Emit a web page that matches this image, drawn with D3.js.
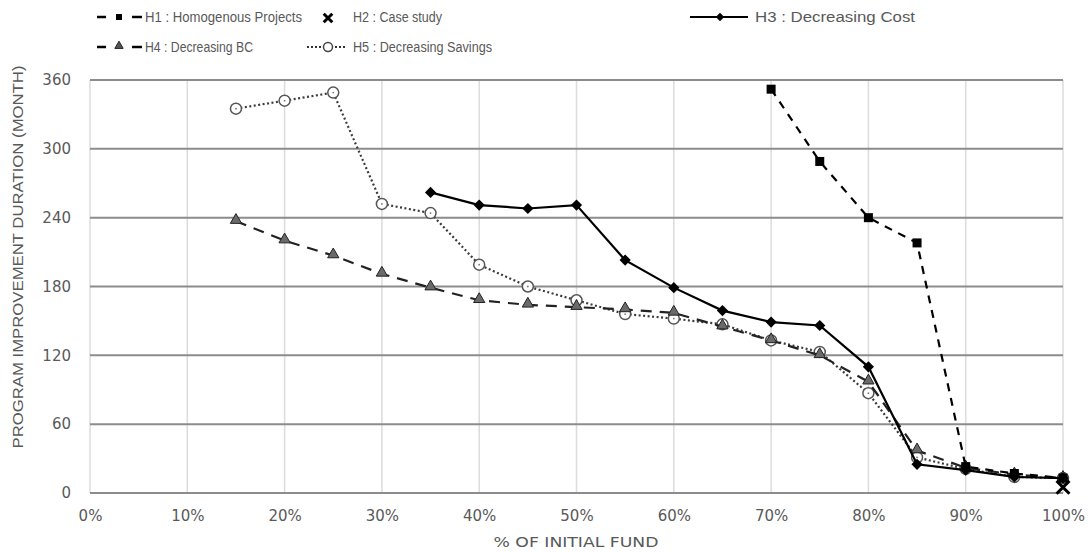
<!DOCTYPE html>
<html><head><meta charset="utf-8">
<script src="https://cdn.jsdelivr.net/npm/d3@7"></script>
<style>body{margin:0;background:#fff}svg{display:block}</style>
</head><body><svg id="c" width="1092" height="552"></svg>
<script>
const xTicks = [0,10,20,30,40,50,60,70,80,90,100];
const yTicks = [0,60,120,180,240,300,360];
const h1X = [70,75,80,85,90,95,100];
const h1Y = [352,289,240,218,23,17,13];
const h2X = [100];
const h2Y = [5];
const h3X = [35,40,45,50,55,60,65,70,75,80,85,90,95,100];
const h3Y = [262,251,248,251,203,179,159,149,146,110,25,20,14,13];
const h4X = [15,20,25,30,35,40,45,50,55,60,65,70,75,80,85,90,95,100];
const h4Y = [237,220,207,191,179,168,164,162,160,157,145,133,120,97,37,22,16,13];
const h5X = [15,20,25,30,35,40,45,50,55,60,65,70,75,80,85,90,95,100];
const h5Y = [335,342,349,252,244,199,180,168,156,152,147,133,123,87,31,21,14,13];
const legendLabels = ["H1 : Homogenous Projects","H2 : Case study","H3 : Decreasing Cost","H4 : Decreasing BC","H5 : Decreasing Savings"];

const svg = d3.select("#c");
const x = d3.scaleLinear().domain([0,100]).range([90,1063]);
const y = d3.scaleLinear().domain([0,360]).range([493,80]);
const grey = "#595959";

// vertical gridlines
svg.append("g").selectAll("line").data(xTicks).join("line")
  .attr("x1",d=>x(d)).attr("x2",d=>x(d)).attr("y1",y(360)).attr("y2",y(0))
  .attr("stroke","#dcdcdc").attr("stroke-width",1.5);
// horizontal gridlines
svg.append("g").selectAll("line").data(yTicks).join("line")
  .attr("x1",x(0)).attr("x2",x(100)).attr("y1",d=>y(d)).attr("y2",d=>y(d))
  .attr("stroke","#8c8c8c").attr("stroke-width",2);

// axes labels
const yAxis = svg.append("g").attr("transform",`translate(${x(0)},0)`)
  .call(d3.axisLeft(y).tickValues(yTicks).tickSize(0).tickPadding(19));
const xAxis = svg.append("g").attr("transform",`translate(0,${y(0)})`)
  .call(d3.axisBottom(x).tickValues(xTicks).tickFormat(d=>d+"%").tickSize(0).tickPadding(17));
[yAxis,xAxis].forEach(a=>{
  a.select(".domain").remove();
  a.selectAll("text").attr("fill",grey).attr("font-family","DejaVu Sans").attr("font-size",15);
});

// axis titles
svg.append("text").attr("x",576).attr("y",547).attr("text-anchor","middle")
  .attr("fill",grey).attr("font-family","DejaVu Sans").attr("font-size",14)
  .attr("textLength",165).attr("lengthAdjust","spacingAndGlyphs").text("% OF INITIAL FUND");
svg.append("text").attr("transform","translate(23,257) rotate(-90)").attr("text-anchor","middle")
  .attr("fill",grey).attr("font-family","Liberation Sans").attr("font-size",14)
  .attr("textLength",383).attr("lengthAdjust","spacingAndGlyphs").text("PROGRAM IMPROVEMENT DURATION (MONTH)");

const line = d3.line().x(d=>x(d[0])).y(d=>y(d[1]));
const zip = (a,b)=>a.map((v,i)=>[v,b[i]]);

// H5
const d5 = zip(h5X,h5Y);
svg.append("path").attr("d",line(d5)).attr("fill","none").attr("stroke","#3a3a3a").attr("stroke-width",2.2).attr("stroke-dasharray","2,2.5");
svg.append("g").selectAll("g").data(d5).join("g").attr("transform",d=>`translate(${x(d[0])},${y(d[1])})`)
  .each(function(){const g=d3.select(this);
    g.append("circle").attr("r",5.5).attr("fill","#fff").attr("stroke","#555").attr("stroke-width",1.5);
    g.append("circle").attr("r",0.9).attr("fill","#777");});
// H4
const d4 = zip(h4X,h4Y);
svg.append("path").attr("d",line(d4)).attr("fill","none").attr("stroke","#222").attr("stroke-width",2.2).attr("stroke-dasharray","11,8");
const tri = d3.symbol().type(d3.symbolTriangle).size(55);
svg.append("g").selectAll("path").data(d4).join("path").attr("d",tri)
  .attr("transform",d=>`translate(${x(d[0])},${y(d[1])-1})`).attr("fill","#6a6a6a").attr("stroke","#222").attr("stroke-width",1);
// H3
const d3d = zip(h3X,h3Y);
svg.append("path").attr("d",line(d3d)).attr("fill","none").attr("stroke","#000").attr("stroke-width",2.2);
const dia = d3.symbol().type(d3.symbolDiamond2).size(80);
svg.append("g").selectAll("path").data(d3d).join("path").attr("d",dia)
  .attr("transform",d=>`translate(${x(d[0])},${y(d[1])})`).attr("fill","#000");
// H1
const d1 = zip(h1X,h1Y);
svg.append("path").attr("d",line(d1)).attr("fill","none").attr("stroke","#000").attr("stroke-width",2.2).attr("stroke-dasharray","8,7");
svg.append("g").selectAll("rect").data(d1).join("rect")
  .attr("x",d=>x(d[0])-4.5).attr("y",d=>y(d[1])-4.5).attr("width",9).attr("height",9).attr("fill","#000");
// H2
const d2 = zip(h2X,h2Y);
const cross = d3.symbol().type(d3.symbolX).size(110);
svg.append("g").selectAll("path").data(d2).join("path").attr("d",cross)
  .attr("transform",d=>`translate(${x(d[0])},${y(d[1])})`).attr("fill","none").attr("stroke","#000").attr("stroke-width",3);

// legend
const lg = svg.append("g");
function ltext(tx,ty,t,len){lg.append("text").attr("x",tx).attr("y",ty).attr("dy","0.35em").attr("fill",grey)
  .attr("font-family","Liberation Sans").attr("font-size",14).attr("textLength",len).attr("lengthAdjust","spacingAndGlyphs").text(t);}
function seg(x1,x2,yy,w,c){lg.append("line").attr("x1",x1).attr("x2",x2).attr("y1",yy).attr("y2",yy).attr("stroke",c||"#000").attr("stroke-width",w||2.5);}
// H1
seg(97,106,17); seg(132,142,17);
lg.append("rect").attr("x",116).attr("y",14).attr("width",6).attr("height",6).attr("fill","#000");
ltext(145,17,legendLabels[0],157);
// H2
lg.append("path").attr("d",d3.symbol().type(d3.symbolX).size(50)).attr("transform","translate(328,18)").attr("stroke","#000").attr("stroke-width",3);
ltext(353,17,legendLabels[1],89);
// H3
seg(690,748,17,2);
lg.append("path").attr("d",d3.symbol().type(d3.symbolDiamond2).size(45)).attr("transform","translate(720,17)").attr("fill","#000");
ltext(755,17,legendLabels[2],160);
// H4
seg(97,106,47); seg(132,142,47);
lg.append("path").attr("d",d3.symbol().type(d3.symbolTriangle).size(30)).attr("transform","translate(119,46)").attr("fill","#555").attr("stroke","#222").attr("stroke-width",1);
ltext(145,47,legendLabels[3],108);
// H5
lg.append("line").attr("x1",307).attr("x2",347).attr("y1",47).attr("y2",47).attr("stroke","#333").attr("stroke-width",2).attr("stroke-dasharray","2,2");
lg.append("circle").attr("cx",328).attr("cy",47).attr("r",4.5).attr("fill","#fff").attr("stroke","#444").attr("stroke-width",1.5);
ltext(353,47,legendLabels[4],139);
</script></body></html>
